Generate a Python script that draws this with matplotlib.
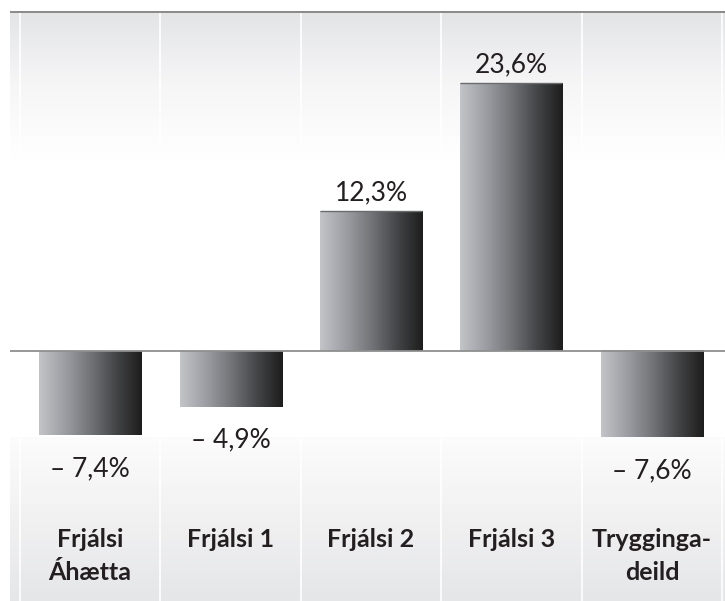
import numpy as np
import matplotlib.pyplot as plt
from matplotlib.colors import LinearSegmentedColormap

categories = ["Frjálsi\nÁhætta", "Frjálsi 1", "Frjálsi 2", "Frjálsi 3", "Trygginga-\ndeild"]
values = [-7.4, -4.9, 12.3, 23.6, -7.6]


def fmt(v):
    s = f"{abs(v):.1f}".replace(".", ",") + "%"
    return ("\u2013 " + s) if v < 0 else s


plt.rcParams['font.family'] = ['Lato', 'DejaVu Sans']

fig = plt.figure(figsize=(7.25, 6.01), dpi=100)
ax = fig.add_axes([0, 0, 1, 1])

# pixel layout: column width 140.5 px, zero line at y=351, 11.35 px per %
xmin, xmax = -0.6406, 4.5196
ymin, ymax = -22.03, 30.93
x_left, x_right = -0.569, xmax
top_y = 29.87
bar_w = 0.726

# background panels
grad = np.linspace(0, 1, 256).reshape(-1, 1)
top_cmap = LinearSegmentedColormap.from_list("top", ["#e3e4e6", "#f6f6f7", "#ffffff"])
bot_cmap = LinearSegmentedColormap.from_list("bot", ["#fcfcfc", "#f1f1f2", "#e5e6e8"])
ax.imshow(grad, extent=[x_left, x_right, 16.8, top_y], aspect='auto', cmap=top_cmap, zorder=0)
ax.imshow(grad, extent=[x_left, x_right, ymin, -7.65], aspect='auto', cmap=bot_cmap, zorder=0)
for b in np.arange(-0.5, len(values)):
    ax.vlines(b, 16.8, top_y, color='white', lw=1.2, zorder=1)
    ax.vlines(b, ymin, -7.65, color='white', lw=1.2, zorder=1)

# bars with horizontal gradient
bar_cmap = LinearSegmentedColormap.from_list(
    "bar", ["#c3c4c8", "#9d9ea3", "#737478", "#444547", "#1d1d1d"])
hgrad = np.linspace(0, 1, 256).reshape(1, -1)
for i, v in enumerate(values):
    ax.imshow(hgrad, extent=[i - bar_w / 2, i + bar_w / 2, min(0, v), max(0, v)],
              aspect='auto', cmap=bar_cmap, zorder=3)
    if v > 0:
        ax.hlines(v, i - bar_w / 2, i + bar_w / 2, color='#6a6b6e', lw=1, zorder=4)
    if v >= 0:
        ax.text(i, v + 0.95, fmt(v), ha='center', va='baseline', fontsize=19,
                color='#231f20', zorder=5)
    else:
        ax.text(i, v - 3.6, fmt(v), ha='center', va='baseline', fontsize=19,
                color='#231f20', zorder=5)

ax.hlines(top_y, x_left, x_right, color='#8a8a8a', lw=1.4, zorder=4)
ax.hlines(0, x_left, x_right, color='#8f8f8f', lw=1.3, zorder=4)

for i, c in enumerate(categories):
    ax.text(i, -15.6, c, ha='center', va='top', fontsize=18, fontweight='bold',
            color='#231f20', linespacing=1.55, multialignment='center', zorder=5)

ax.set_xlim(xmin, xmax)
ax.set_ylim(ymin, ymax)
ax.axis('off')
fig.savefig("out.png", dpi=100)
